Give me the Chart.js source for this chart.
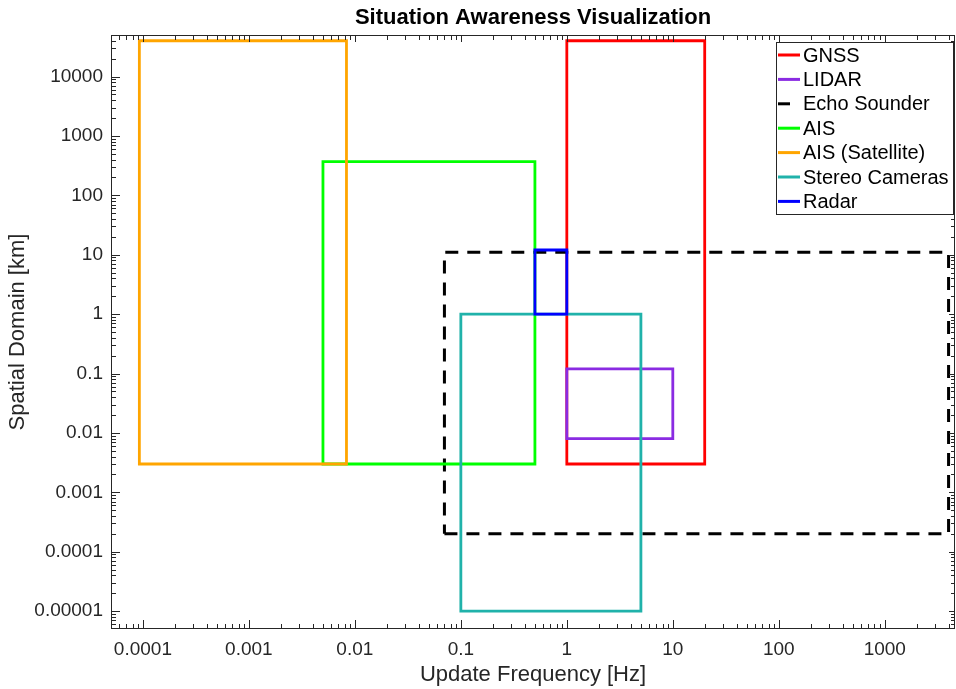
<!DOCTYPE html>
<html>
<head>
<meta charset="utf-8">
<script src="https://cdn.jsdelivr.net/npm/chart.js@4.4.1/dist/chart.umd.min.js"></script>
<style>
  html, body { margin: 0; padding: 0; background: #fff; overflow: hidden; }
  canvas { display: block; }
</style>
</head>
<body>
<canvas id="c" width="956" height="689"></canvas>
<script>
// Sensor coverage: update frequency range [Hz] and spatial range [km]
const sensors   = ['GNSS', 'LIDAR', 'Echo Sounder', 'AIS', 'AIS (Satellite)', 'Stereo Cameras', 'Radar'];
const freqMin   = [1,     1,     0.07,   0.005, 1 / 10800, 0.1,     0.5];
const freqMax   = [20,    10,    4000,   0.5,   1 / 120,   5,       1];
const rangeMin  = [0.003, 0.008, 0.0002, 0.003, 0.003,     0.00001, 1];
const rangeMax  = [40000, 0.12,  11,     370,   40000,     1,       12];

// Decade tick values for both axes
const xTicks = [0.0001, 0.001, 0.01, 0.1, 1, 10, 100, 1000];
const yTicks = [0.00001, 0.0001, 0.001, 0.01, 0.1, 1, 10, 100, 1000, 10000];
const minorSteps = [2, 3, 4, 5, 6, 7, 8, 9];

// Line styles
const lineColors = ['#ff0000', '#8a2be2', '#000000', '#00ff00', '#ffa500', '#20b2aa', '#0000ff'];
const lineDashes = [[], [], [13, 9], [], [], [], []];

const FONT = '"Liberation Sans", Arial, Helvetica, sans-serif';
const AXIS_COLOR = '#262626';

const datasets = sensors.map((name, i) => {
  const x0 = freqMin[i], x1 = freqMax[i], y0 = rangeMin[i], y1 = rangeMax[i];
  const pts = [
    { x: x0, y: y0 }, { x: x1, y: y0 }, { x: x1, y: y1 }, { x: x0, y: y1 }, { x: x0, y: y0 }
  ];
  // solid outlines get one extra vertex so the starting corner is mitred too
  if (!lineDashes[i].length) pts.push({ x: x1, y: y0 });
  return {
    label: name,
    data: pts,
    showLine: true,
    borderColor: lineColors[i],
    backgroundColor: lineColors[i],
    borderWidth: lineDashes[i].length ? 3 : 2.8,
    borderDash: lineDashes[i],
    borderJoinStyle: 'miter',
    borderCapStyle: 'butt',
    pointRadius: 0,
    pointHoverRadius: 0,
    fill: false,
    tension: 0,
    order: sensors.length - i
  };
});

const fmt = v => String(v);

// Frame, inward ticks, title and legend
const decor = {
  id: 'decor',
  afterDraw(chart) {
    const { ctx, chartArea: a, scales } = chart;
    const sx = scales.x, sy = scales.y;
    ctx.save();
    ctx.strokeStyle = AXIS_COLOR;
    ctx.lineWidth = 1;

    ctx.beginPath();
    for (let d = -6; d <= 5; d++) {
      [1, ...minorSteps].forEach(k => {
        const v = k * Math.pow(10, d);
        const major = k === 1;
        if (v >= sx.min && v <= sx.max) {
          const p = Math.round(sx.getPixelForValue(v)) + 0.5;
          ctx.moveTo(p, a.bottom); ctx.lineTo(p, a.bottom - (major ? 9 : 5));
          ctx.moveTo(p, a.top); ctx.lineTo(p, a.top + (major ? 7 : 5));
        }
        if (v >= sy.min && v <= sy.max) {
          const p = Math.round(sy.getPixelForValue(v)) + 0.5;
          ctx.moveTo(a.left, p); ctx.lineTo(a.left + (major ? 9 : 5), p);
          ctx.moveTo(a.right, p); ctx.lineTo(a.right - (major ? 6 : 4), p);
        }
      });
    }
    ctx.stroke();
    ctx.strokeRect(a.left + 0.5, a.top + 0.5, a.right - a.left - 1, a.bottom - a.top - 1);

    // title
    ctx.fillStyle = '#000';
    ctx.font = 'bold 22px ' + FONT;
    ctx.textAlign = 'center';
    ctx.textBaseline = 'middle';
    ctx.fillText('Situation Awareness Visualization', (a.left + a.right) / 2, 18);

    // legend
    const lx = 776, ly = 42, lw = 177, lh = 172, row = 24.4;
    ctx.fillStyle = '#fff';
    ctx.fillRect(lx, ly, lw, lh);
    ctx.strokeStyle = AXIS_COLOR;
    ctx.lineWidth = 1;
    ctx.strokeRect(lx + 0.5, ly + 0.5, lw, lh);
    chart.data.datasets.forEach((ds, i) => {
      const yy = ly + 13 + i * row;
      ctx.strokeStyle = ds.borderColor;
      ctx.lineWidth = 3;
      ctx.setLineDash([]);
      ctx.beginPath();
      if (ds.borderDash && ds.borderDash.length) {
        ctx.moveTo(lx + 2, yy); ctx.lineTo(lx + 14, yy);
      } else {
        ctx.moveTo(lx + 2, yy); ctx.lineTo(lx + 24, yy);
      }
      ctx.stroke();
      ctx.fillStyle = '#000';
      ctx.font = '20px ' + FONT;
      ctx.textAlign = 'left';
      ctx.textBaseline = 'middle';
      ctx.fillText(ds.label, lx + 27, yy + 1);
    });
    ctx.restore();
  }
};

new Chart(document.getElementById('c'), {
  type: 'scatter',
  data: { datasets },
  options: {
    responsive: false,
    devicePixelRatio: 1,
    animation: false,
    events: [],
    layout: { padding: { top: 35, right: 1, left: 0, bottom: 0 } },
    plugins: {
      legend: { display: false },
      title: { display: false },
      tooltip: { enabled: false }
    },
    scales: {
      x: {
        type: 'logarithmic',
        min: 5e-5,
        max: 4600,
        afterBuildTicks: s => { s.ticks = xTicks.map(v => ({ value: v })); },
        afterFit: s => { s.height = 60; },
        grid: { display: false, drawTicks: false },
        border: { display: false },
        ticks: {
          autoSkip: false, maxRotation: 0, minRotation: 0, padding: 9,
          color: AXIS_COLOR, font: { family: FONT, size: 19 },
          callback: v => fmt(v)
        },
        title: {
          display: true, text: 'Update Frequency [Hz]', color: AXIS_COLOR,
          font: { family: FONT, size: 22 }, padding: { top: 0, bottom: 1 }
        }
      },
      y: {
        type: 'logarithmic',
        min: 5e-6,
        max: 5e4,
        afterBuildTicks: s => { s.ticks = yTicks.map(v => ({ value: v })); },
        afterFit: s => { s.width = 111; },
        grid: { display: false, drawTicks: false },
        border: { display: false },
        ticks: {
          autoSkip: false, padding: 8,
          color: AXIS_COLOR, font: { family: FONT, size: 19 },
          callback: v => fmt(v)
        },
        title: {
          display: true, text: 'Spatial Domain [km]', color: AXIS_COLOR,
          font: { family: FONT, size: 22 }, padding: { top: 5, bottom: 0 }
        }
      }
    }
  },
  plugins: [decor]
});
</script>
</body>
</html>
